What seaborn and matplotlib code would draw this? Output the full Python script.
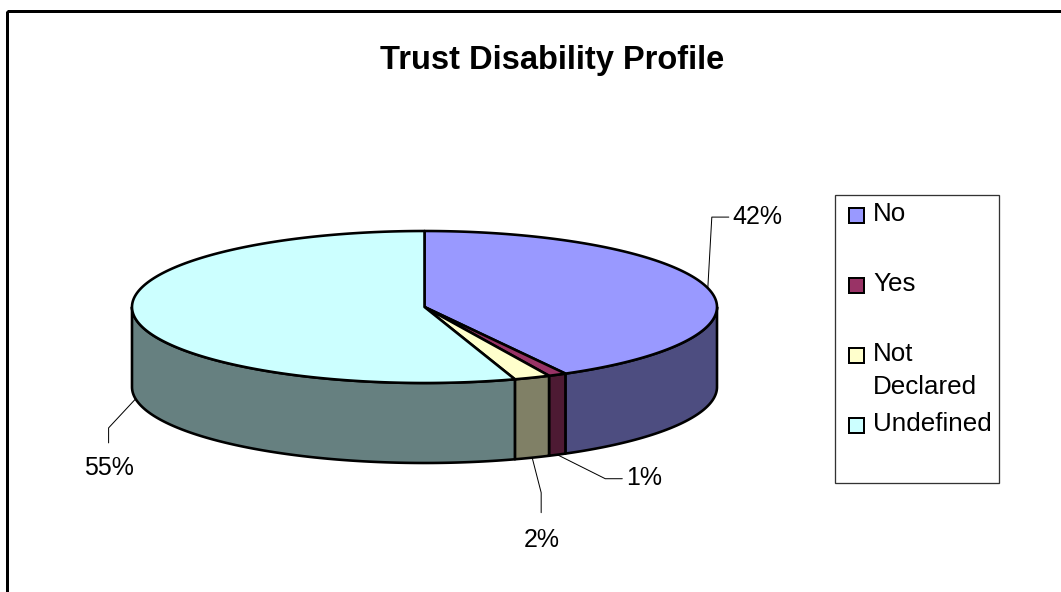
import numpy as np
import matplotlib
matplotlib.use("Agg")
import matplotlib.pyplot as plt
from matplotlib.patches import Polygon, Rectangle
import seaborn as sns

# Chart data
categories = ["No", "Yes", "Not Declared", "Undefined"]
percent = [42, 1, 2, 55]
top_colors = ["#9999FF", "#993366", "#FFFFCC", "#CCFFFF"]
side_colors = ["#4D4D80", "#4D1A33", "#808066", "#668080"]
legend_labels = ["No", "Yes", "Not\nDeclared", "Undefined"]
title = "Trust Disability Profile"

sns.set_style("white")
plt.rcParams["font.family"] = ["Liberation Sans", "DejaVu Sans"]
plt.rcParams["text.color"] = "black"

W, H, DPI = 1061, 592, 100
fig = plt.figure(figsize=(W / DPI, H / DPI), dpi=DPI)
ax = fig.add_axes([0, 0, 1, 1])
ax.set_xlim(0, W)
ax.set_ylim(H, 0)
ax.axis("off")

PT = 72 / DPI  # pixels -> points

# Outer chart-area frame (right and bottom edges fall outside the canvas)
ax.add_patch(Rectangle((7, 11), W + 20, H + 20, fill=False, ec="black",
                       lw=3 * PT, zorder=1))

# Elliptical 3-D pie geometry (screen pixels)
cx, cy, a, b, depth = 424.5, 307.0, 292.5, 76.0, 80.0


def rim(theta_deg, dy=0.0):
    t = np.radians(theta_deg)
    return cx + a * np.sin(t), cy - b * np.cos(t) + dy


bounds = np.concatenate([[0], np.cumsum(percent)]) / sum(percent) * 360.0
edge_lw = 2.6 * PT

# Side walls for the front half of the pie
for i in range(len(categories)):
    t1, t2 = max(bounds[i], 90.0), min(bounds[i + 1], 270.0)
    if t2 <= t1:
        continue
    th = np.linspace(t1, t2, 120)
    xs, ys = rim(th)
    xb, yb = rim(th[::-1], depth)
    pts = np.column_stack([np.concatenate([xs, xb]), np.concatenate([ys, yb])])
    ax.add_patch(Polygon(pts, closed=True, fc=side_colors[i], ec="black",
                         lw=edge_lw, joinstyle="round", zorder=2))

# Top faces
for i in range(len(categories)):
    th = np.linspace(bounds[i], bounds[i + 1], 200)
    xs, ys = rim(th)
    pts = np.column_stack([np.concatenate([[cx], xs]), np.concatenate([[cy], ys])])
    ax.add_patch(Polygon(pts, closed=True, fc=top_colors[i], ec="black",
                         lw=edge_lw, joinstyle="round", zorder=3))

# Percentage labels with elbow leader lines
label_fs = 18
# (elbow offset from rim anchor, end offset from elbow, text offset from end, ha)
leaders = [
    ((4, -71), (17, 0), (4, 0), "left"),
    ((48, 24), (17, 0), (4, -1), "left"),
    ((9, 35), (0, 20), (1, 27), "center"),
    ((-27, 29), (0, 15), (0, 25), "center"),
]
for i in range(len(categories)):
    mid = 0.5 * (bounds[i] + bounds[i + 1])
    front = 90.0 < mid < 270.0
    x0, y0 = rim(mid, depth if front else 0.0)
    (ex, ey), (fx, fy), (tx, ty), ha = leaders[i]
    x1, y1 = x0 + ex, y0 + ey
    x2, y2 = x1 + fx, y1 + fy
    ax.plot([x0, x1, x2], [y0, y1, y2], color="black", lw=1.0 * PT, zorder=4)
    ax.text(x2 + tx, y2 + ty, f"{percent[i]}%", fontsize=label_fs, ha=ha,
            va="center", zorder=5)

# Title
ax.text(552, 60, title, fontsize=23.5, fontweight="bold", ha="center",
        va="center")

# Legend
lx0, ly0, lx1, ly1 = 835, 195, 999, 483
ax.add_patch(Rectangle((lx0, ly0), lx1 - lx0, ly1 - ly0, fc="white",
                       ec="#333333", lw=1.3 * PT, zorder=4))
entry_y0, entry_step, msz = 215, 70, 15
for i, lab in enumerate(legend_labels):
    yc = entry_y0 + entry_step * i
    ax.add_patch(Rectangle((849, yc - msz / 2), msz, msz, fc=top_colors[i],
                           ec="black", lw=2.0 * PT, zorder=5))
    for j, line in enumerate(lab.split("\n")):
        ax.text(873, yc - 1 + 33 * j, line, fontsize=18.7, ha="left",
                va="center", zorder=5)

fig.savefig("out.png", dpi=DPI)
